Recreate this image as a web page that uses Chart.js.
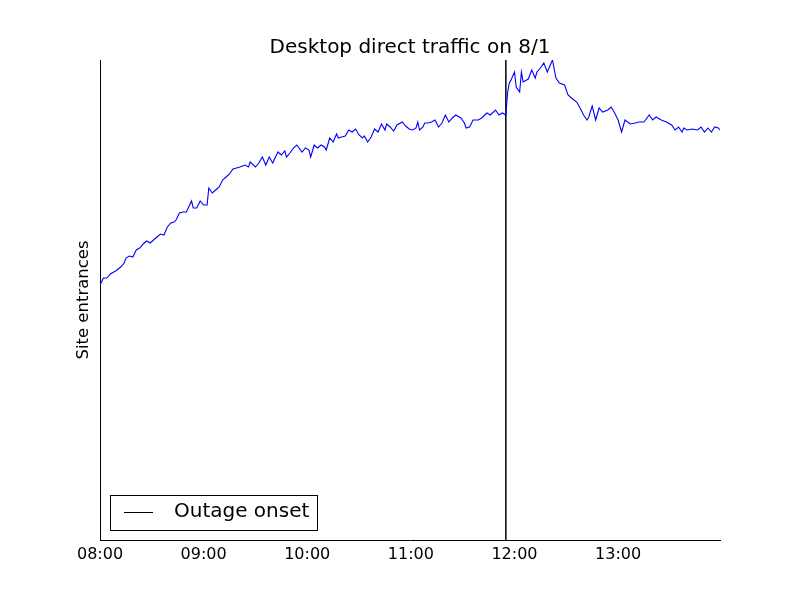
<!DOCTYPE html>
<html>
<head>
<meta charset="utf-8">
<script src="https://cdn.jsdelivr.net/npm/chart.js@4/dist/chart.umd.min.js"></script>
<style>
  body { margin: 0; background: #fff; }
  #chart { display: block; }
</style>
</head>
<body>
<canvas id="chart" width="800" height="600"></canvas>
<script>
// minutes after 08:00
var minutes = [0,2,4,6,9,12,14,15,17,19,21,23,25,27,29,31,33,35,37,39,41,43,44,46,48,50,53,54,56,58,60,
  62,63,65,67,69,71,73,75,77,79,81,84,86,87,90,92,94,96,98,100,103,105,107,108,110,112,114,117,119,121,
  122,124,126,128,130,131,133,135,137,138,140,142,144,146,148,150,152,153,155,157,159,161,163,165,166,168,170,172,175,177,179,
  181,183,184,185,187,188,190,192,194,196,198,200,202,204,206,209,211,212,214,216,219,221,224,226,229,231,233,235,236,237,
  238,240,241,243,244,245,248,250,252,253,255,257,259,262,264,266,269,271,273,276,278,280,282,283,285,287,289,291,294,296,298,
  300,302,304,307,310,312,315,318,320,322,325,328,331,333,335,337,338,340,343,346,348,350,352,354,356,358,359];

var entrances = [255,262,262,266,269,273,277,282,284,283,290,292,296,299,297,300,303,306,305,313,317,318,320,327,328,328,339,332,332,339,335,
  335,352,347,350,353,360,363,366,371,372,373,375,373,378,373,377,383,375,383,377,388,385,389,383,387,392,395,388,392,390,
  383,395,392,395,393,390,402,398,406,402,403,404,410,408,411,405,402,404,398,403,411,408,416,410,416,413,409,415,418,414,411,
  410,412,418,410,413,417,417,418,420,413,417,425,418,422,425,422,417,412,413,420,420,422,427,425,430,425,427,425,447,457,
  460,468,453,448,468,458,461,470,462,468,472,477,468,480,462,457,455,445,442,438,432,425,420,423,434,420,432,428,430,433,427,
  420,408,420,416,417,418,418,425,420,423,420,418,415,410,413,408,412,410,411,410,413,408,412,408,413,412,410];

var outageMinute = 235;
var tickLabels = ['08:00', '09:00', '10:00', '11:00', '12:00', '13:00'];
var yMin = 0, yMax = 480;

var traffic = minutes.map(function (m, i) { return { x: m, y: entrances[i] }; });

// legend drawn inside the plot, lower left
var boxLegend = {
  id: 'boxLegend',
  afterDraw: function (chart) {
    var ctx = chart.ctx, a = chart.chartArea;
    var ds = chart.data.datasets[1];
    var x = a.left + 10, y = a.bottom - 45, w = 207, h = 35;
    ctx.save();
    ctx.fillStyle = '#fff';
    ctx.fillRect(x, y, w, h);
    ctx.strokeStyle = '#000';
    ctx.lineWidth = 1;
    ctx.strokeRect(x + 0.5, y + 0.5, w, h);
    ctx.beginPath();
    ctx.moveTo(x + 14, y + 17.5);
    ctx.lineTo(x + 43, y + 17.5);
    ctx.strokeStyle = ds.borderColor;
    ctx.stroke();
    ctx.fillStyle = '#000';
    ctx.font = '20px "DejaVu Sans"';
    ctx.textBaseline = 'middle';
    ctx.fillText(ds.label, x + 64, y + 17);
    ctx.restore();
  }
};

new Chart(document.getElementById('chart').getContext('2d'), {
  type: 'line',
  data: {
    datasets: [
      {
        label: 'Desktop direct traffic',
        data: traffic,
        borderColor: '#0000ff',
        borderWidth: 1.1,
        pointRadius: 0,
        tension: 0
      },
      {
        label: 'Outage onset',
        data: [{ x: outageMinute, y: yMin }, { x: outageMinute, y: yMax }],
        borderColor: '#000',
        borderWidth: 1.5,
        pointRadius: 0
      }
    ]
  },
  options: {
    responsive: false,
    animation: false,
    devicePixelRatio: 1,
    layout: { padding: { left: 0, right: 80, top: 0, bottom: 0 } },
    plugins: {
      legend: { display: false },
      tooltip: { enabled: false },
      title: {
        display: true,
        fullSize: false,
        text: 'Desktop direct traffic on 8/1',
        color: '#000',
        font: { family: 'DejaVu Sans', size: 20, weight: 'normal', lineHeight: 1.2 },
        padding: { top: 36, bottom: 0 }
      }
    },
    scales: {
      x: {
        type: 'linear',
        min: 0,
        max: 359,
        grid: { display: false, drawTicks: false },
        border: { display: true, color: '#000', width: 1 },
        afterBuildTicks: function (s) {
          s.ticks = tickLabels.map(function (t, i) { return { value: i * 60 }; });
        },
        ticks: {
          color: '#000',
          padding: 5,
          maxRotation: 0,
          autoSkip: false,
          font: { family: 'DejaVu Sans', size: 16 },
          callback: function (v) { return tickLabels[Math.round(v / 60)]; }
        },
        afterFit: function (s) { s.height = 60; }
      },
      y: {
        min: yMin,
        max: yMax,
        grid: { display: false, drawTicks: false },
        border: { display: true, color: '#000', width: 1 },
        ticks: { display: false },
        title: {
          display: true,
          text: 'Site entrances',
          color: '#000',
          font: { family: 'DejaVu Sans', size: 16.5 },
          padding: { top: 74, bottom: 0 }
        },
        afterFit: function (s) { s.width = 100; }
      }
    }
  },
  plugins: [boxLegend]
});
</script>
</body>
</html>
